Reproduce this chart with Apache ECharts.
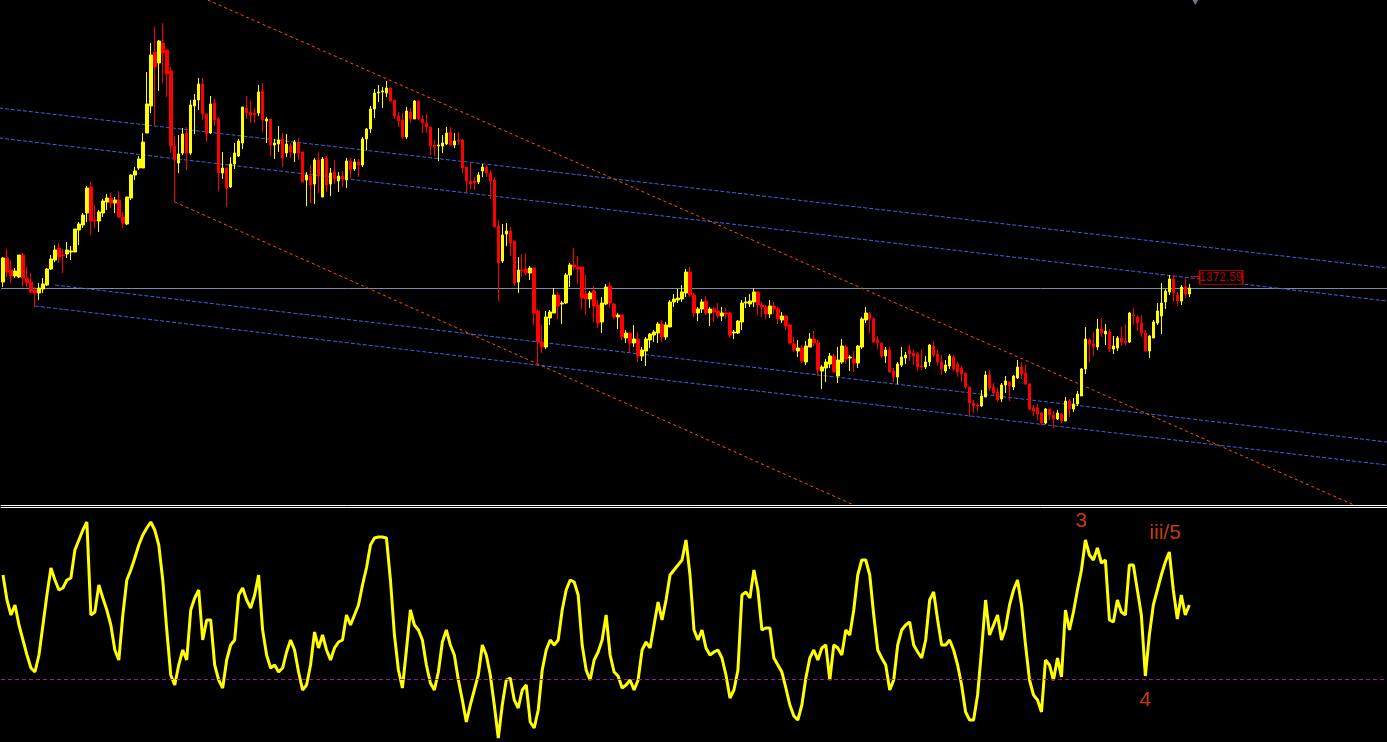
<!DOCTYPE html>
<html><head><meta charset="utf-8">
<script src="https://cdn.jsdelivr.net/npm/echarts@6/dist/echarts.min.js"></script>
<style>html,body{margin:0;padding:0;background:#000;overflow:hidden}#c{width:1387px;height:742px;}</style>
</head><body><div id="c"></div>
<script>
// ---- candle data (price units) ----
const opens = [
1368,1392,1380,1374,1373,1395,1372,1368,1360,1357,
1361,1365,1381,1390,1402,1395,1396,1398,1398,1420,
1425,1437,1463,1430,1429,1437,1448,1452,1447,1450,
1433,1426,1452,1475,1482,1482,1517,1544,1598,1587,
1607,1600,1579,1504,1487,1497,1517,1497,1544,1550,
1566,1536,1517,1547,1531,1477,1482,1463,1486,1494,
1507,1542,1538,1537,1537,1559,1529,1531,1505,1506,
1511,1497,1504,1497,1507,1498,1470,1474,1466,1490,
1453,1492,1466,1478,1469,1474,1470,1489,1481,1488,
1485,1511,1521,1541,1557,1558,1557,1562,1550,1534,
1530,1513,1538,1531,1549,1531,1527,1523,1505,1504,
1504,1506,1518,1505,1510,1510,1483,1469,1469,1468,
1479,1483,1477,1470,1424,1389,1416,1419,1409,1368,
1380,1381,1377,1382,1339,1308,1303,1332,1337,1355,
1346,1347,1375,1385,1383,1383,1356,1351,1359,1345,
1328,1346,1364,1346,1333,1335,1312,1317,1307,1311,
1294,1299,1310,1315,1317,1326,1313,1323,1348,1350,
1351,1357,1378,1355,1337,1341,1349,1337,1341,1339,
1334,1337,1337,1317,1317,1328,1347,1346,1348,1358,
1345,1343,1336,1344,1341,1330,1334,1325,1306,1299,
1302,1288,1303,1311,1307,1279,1282,1286,1294,1274,
1288,1303,1292,1291,1287,1303,1330,1336,1331,1310,
1307,1294,1300,1279,1273,1285,1292,1300,1297,1296,
1284,1283,1288,1304,1296,1288,1279,1284,1293,1286,
1282,1277,1263,1247,1245,1244,1253,1275,1263,1258,
1251,1265,1268,1263,1272,1283,1277,1266,1242,1242,
1237,1227,1241,1235,1231,1236,1229,1249,1241,1246,
1254,1281,1310,1306,1303,1321,1316,1318,1301,1302,
1312,1309,1308,1335,1333,1327,1317,1299,1312,1327,
1334,1348,1358,1371,1355,1349,1363,1356];
const closes = [
1392,1378,1374,1379,1395,1372,1367,1358,1357,1362,
1366,1381,1391,1400,1393,1394,1400,1399,1421,1426,
1435,1462,1429,1429,1438,1449,1452,1447,1450,1433,
1427,1453,1475,1479,1491,1508,1546,1595,1583,1609,
1597,1576,1504,1490,1496,1516,1497,1545,1550,1566,
1536,1516,1546,1530,1477,1482,1462,1486,1497,1509,
1543,1537,1535,1535,1558,1530,1531,1505,1507,1510,
1492,1506,1498,1508,1497,1468,1475,1465,1490,1474,
1491,1465,1477,1471,1474,1471,1489,1480,1488,1485,
1511,1521,1541,1557,1558,1559,1562,1549,1534,1529,
1513,1539,1531,1549,1531,1527,1523,1504,1503,1505,
1507,1517,1505,1509,1509,1482,1469,1466,1467,1475,
1483,1477,1469,1423,1387,1415,1419,1407,1367,1380,
1379,1377,1382,1337,1308,1303,1333,1338,1355,1344,
1347,1375,1385,1383,1381,1352,1351,1357,1344,1327,
1347,1363,1347,1333,1335,1313,1317,1307,1311,1294,
1300,1311,1316,1318,1326,1313,1325,1348,1351,1352,
1358,1378,1355,1337,1341,1348,1337,1341,1338,1334,
1337,1336,1315,1318,1329,1347,1348,1349,1358,1345,
1343,1336,1344,1341,1331,1334,1324,1307,1300,1302,
1289,1304,1311,1307,1280,1283,1288,1294,1278,1290,
1304,1291,1293,1287,1304,1331,1337,1331,1308,1307,
1294,1300,1278,1273,1286,1293,1295,1296,1294,1283,
1283,1288,1305,1295,1288,1281,1285,1294,1281,1278,
1276,1263,1247,1244,1244,1254,1275,1262,1257,1250,
1265,1269,1264,1274,1283,1276,1266,1241,1239,1236,
1227,1241,1235,1231,1237,1229,1249,1241,1246,1256,
1281,1311,1306,1303,1321,1317,1319,1301,1304,1312,
1308,1307,1337,1334,1327,1317,1299,1314,1328,1339,
1347,1359,1371,1357,1349,1363,1356,1362];
const lows = [
1363,1373,1367,1372,1372,1363,1363,1357,1343,1350,
1357,1364,1380,1388,1387,1377,1392,1390,1398,1405,
1422,1428,1415,1422,1418,1433,1440,1442,1437,1432,
1422,1425,1450,1470,1480,1482,1517,1537,1525,1559,
1567,1553,1497,1448,1477,1495,1480,1495,1516,1540,
1530,1508,1516,1524,1459,1471,1443,1462,1481,1493,
1501,1531,1527,1527,1534,1518,1507,1494,1491,1498,
1483,1493,1492,1488,1490,1468,1444,1447,1446,1457,
1453,1458,1454,1466,1458,1463,1462,1472,1479,1473,
1483,1500,1517,1532,1548,1542,1553,1548,1531,1523,
1511,1511,1527,1531,1530,1517,1517,1495,1494,1489,
1497,1505,1504,1502,1505,1477,1457,1461,1460,1466,
1473,1473,1451,1423,1349,1387,1404,1394,1364,1357,
1373,1375,1370,1325,1285,1297,1301,1325,1337,1331,
1326,1346,1363,1380,1366,1341,1335,1342,1328,1322,
1317,1345,1342,1331,1321,1310,1307,1298,1303,1288,
1289,1284,1302,1308,1307,1308,1310,1323,1343,1347,
1348,1353,1353,1333,1329,1337,1335,1324,1328,1332,
1329,1331,1312,1311,1316,1320,1342,1343,1343,1335,
1333,1331,1332,1336,1326,1327,1320,1305,1298,1293,
1287,1285,1303,1304,1274,1261,1268,1282,1277,1267,
1286,1286,1279,1278,1282,1301,1327,1317,1307,1301,
1292,1287,1277,1268,1266,1283,1286,1289,1285,1279,
1280,1281,1284,1293,1284,1275,1277,1281,1279,1273,
1268,1261,1233,1237,1238,1243,1253,1259,1255,1248,
1248,1257,1249,1260,1271,1271,1265,1240,1234,1230,
1225,1226,1230,1222,1230,1227,1229,1233,1238,1244,
1254,1276,1288,1294,1300,1313,1305,1298,1296,1299,
1304,1305,1307,1325,1319,1313,1298,1292,1312,1325,
1316,1341,1355,1348,1344,1345,1352,1353];
const highs = [
1393,1401,1390,1382,1395,1397,1383,1377,1363,1367,
1372,1382,1395,1405,1407,1401,1408,1404,1421,1428,
1437,1464,1468,1445,1440,1451,1456,1457,1453,1459,
1438,1453,1476,1483,1494,1517,1578,1607,1623,1610,
1627,1600,1583,1514,1515,1522,1523,1550,1556,1572,
1572,1537,1554,1551,1533,1498,1482,1493,1507,1511,
1543,1554,1549,1542,1565,1567,1533,1531,1511,1524,
1517,1516,1507,1510,1512,1498,1478,1485,1492,1498,
1493,1494,1482,1490,1478,1479,1492,1492,1491,1491,
1513,1522,1544,1561,1565,1563,1569,1563,1550,1538,
1537,1543,1542,1550,1549,1535,1536,1523,1510,1522,
1515,1523,1523,1517,1518,1511,1483,1487,1473,1478,
1486,1485,1480,1473,1430,1426,1427,1423,1409,1393,
1396,1397,1384,1382,1341,1325,1339,1340,1362,1358,
1349,1377,1387,1402,1394,1383,1375,1359,1364,1350,
1353,1366,1368,1347,1337,1335,1320,1317,1325,1318,
1303,1313,1317,1320,1328,1330,1328,1350,1356,1361,
1365,1381,1383,1357,1343,1351,1354,1343,1343,1347,
1343,1342,1338,1320,1330,1350,1353,1356,1362,1358,
1348,1345,1350,1348,1343,1338,1335,1326,1313,1310,
1305,1309,1317,1319,1310,1285,1291,1297,1296,1303,
1311,1305,1295,1299,1305,1333,1343,1338,1333,1314,
1307,1303,1304,1282,1288,1303,1298,1305,1300,1298,
1301,1294,1306,1309,1300,1295,1290,1296,1295,1288,
1284,1277,1263,1250,1247,1260,1279,1280,1267,1262,
1267,1274,1269,1275,1290,1288,1285,1267,1245,1246,
1238,1242,1241,1239,1240,1237,1253,1251,1252,1259,
1282,1323,1312,1318,1331,1332,1326,1321,1314,1314,
1323,1326,1338,1342,1335,1335,1320,1315,1330,1347,
1367,1361,1375,1375,1358,1365,1371,1366];

// ---- oscillator (lower panel) ----
const oscValues = [
167,142,127,137,117,102,87,74,70,87,
117,147,174,162,152,154,162,164,192,202,
212,220,127,130,157,144,132,117,92,82,
127,162,172,184,197,207,214,220,212,197,
162,112,67,57,77,92,82,132,144,152,
102,122,122,77,62,54,82,97,102,147,
154,142,134,147,167,112,87,74,77,70,
74,90,102,92,70,52,57,77,110,94,
107,92,82,94,100,102,127,117,127,137,
157,174,197,204,205,205,204,162,107,72,
54,92,132,117,112,102,77,59,52,70,
100,112,97,87,62,42,20,37,52,67,
97,87,67,37,4,37,62,64,42,34,
52,57,20,14,32,72,92,102,97,102,
132,152,162,160,147,97,72,62,82,90,
102,127,87,70,66,54,57,62,52,62,
92,100,94,117,140,122,142,167,172,177,
182,202,167,112,102,112,94,87,90,92,
84,67,44,52,72,147,150,144,172,152,
112,114,114,84,77,70,54,37,26,22,
37,64,84,92,82,94,97,62,97,94,
87,112,107,132,167,182,182,167,127,92,
84,77,52,62,97,112,117,120,97,90,
84,102,142,150,122,97,97,102,92,77,
57,30,22,22,47,92,142,107,117,127,
102,114,137,152,162,137,97,62,47,42,
30,82,77,62,84,65,132,112,130,152,
172,202,187,182,194,179,182,122,120,142,
130,127,177,177,152,127,66,107,137,152,
167,180,190,152,123,147,127,137];
const oscLevel = 63;
const oscLabels = [[270, 221, '3'], [291, 209, 'iii/5'], [286, 42, '4']];

// ---- trend lines: [barIndex, price] ----
const trendOrangeUpper = [[51.25, 1650], [338.25, 1145]];
const trendOrangeLower = [[43, 1448], [213, 1145]];
const trendBlueA = [[-1, 1542], [346.5, 1382]];
const trendBlueB = [[-1, 1512], [346.5, 1349]];
const trendBlueC1 = [[13, 1365], [346.5, 1208]];
const trendBlueC2 = [[8, 1344], [346.5, 1185]];

const tagPrice = 1372.59;
const tagIndex = 305;
const slotCount = 347;
const categories = Array.from({length: slotCount}, (_, i) => String(i));

const candleData = opens.map((o, i) => [o, closes[i], lows[i], highs[i]]);
const lastClose = closes[closes.length - 1];
const oscData = oscValues.map((v, i) => [i, v]);

function trend(data, color, dash) {
  return {type: 'line', xAxisIndex: 1, yAxisIndex: 0, data: data, symbol: 'none', silent: true, clip: true, z: 1,
    lineStyle: {color: color, width: 1, type: dash}};
}

const chart = echarts.init(document.getElementById('c'), null, {renderer: 'canvas'});
chart.setOption({
  backgroundColor: '#000',
  animation: false,
  grid: [
    {left: 1, top: 0, width: 1388, height: 505},
    {left: 1, top: 507, width: 1388, height: 235}
  ],
  xAxis: [
    {type: 'category', gridIndex: 0, data: categories, boundaryGap: true,
     axisLine: {show: true, onZero: false, lineStyle: {color: '#ffffff', width: 1}},
     axisTick: {show: false}, axisLabel: {show: false}, splitLine: {show: false}},
    {type: 'value', gridIndex: 0, min: -0.5, max: slotCount - 0.5, show: false},
    {type: 'value', gridIndex: 1, min: -0.5, max: slotCount - 0.5, position: 'top',
     axisLine: {show: true, onZero: false, lineStyle: {color: '#ffffff', width: 1}},
     axisTick: {show: false}, axisLabel: {show: false}, splitLine: {show: false}}
  ],
  yAxis: [
    {type: 'value', gridIndex: 0, min: 1145, max: 1650, show: false, splitLine: {show: false}},
    {type: 'value', gridIndex: 1, min: 0, max: 235, show: false, splitLine: {show: false}}
  ],
  series: [
    trend(trendBlueA, '#3f62e6', [4, 2]),
    trend(trendBlueB, '#3f62e6', [4, 2]),
    trend(trendBlueC1, '#3f62e6', [4, 2]),
    trend(trendBlueC2, '#3f62e6', [4, 2]),
    trend(trendOrangeUpper, '#ff5500', [3, 3]),
    trend(trendOrangeLower, '#ff5500', [3, 3]),
    {
      type: 'candlestick', xAxisIndex: 0, yAxisIndex: 0, data: candleData, barWidth: 3, z: 3,
      itemStyle: {color: '#ffff00', color0: '#ff0000', borderColor: '#ffff00', borderColor0: '#ff0000', borderWidth: 1},
      markLine: {silent: true, symbol: ['none', 'none'], label: {show: false}, z: 1,
        lineStyle: {color: '#7b8ba3', type: 'solid', width: 1},
        data: [{yAxis: lastClose}]}
    },
    {
      type: 'line', xAxisIndex: 1, yAxisIndex: 0, symbol: 'none', silent: true, z: 4,
      data: [[297.3, tagPrice + 1], [tagIndex - 5.3, tagPrice + 1]],
      lineStyle: {color: '#ff0000', width: 1}
    },
    {
      type: 'scatter', xAxisIndex: 1, yAxisIndex: 0, silent: true, z: 5,
      data: [[tagIndex, tagPrice]], symbol: 'rect', symbolSize: [43, 14],
      itemStyle: {color: '#000000', borderColor: '#ee0000', borderWidth: 1},
      label: {show: true, position: 'inside', formatter: tagPrice.toFixed(2), color: '#ee0000', fontSize: 12,
        fontFamily: 'Liberation Sans Narrow, Liberation Sans, Arial'}
    },
    {
      type: 'scatter', xAxisIndex: 1, yAxisIndex: 0, silent: true, z: 5,
      data: [[298.5, 1649]], symbol: 'triangle', symbolRotate: 180, symbolSize: [9, 8],
      itemStyle: {color: '#8595ad'}
    },
    {
      type: 'line', xAxisIndex: 2, yAxisIndex: 1, data: oscData, symbol: 'none', silent: true, z: 3,
      lineStyle: {color: '#ffff00', width: 3},
      markLine: {silent: true, symbol: ['none', 'none'], label: {show: false},
        lineStyle: {color: '#a01aa0', type: [4, 3], width: 1},
        data: [{yAxis: oscLevel}]}
    },
    {
      type: 'scatter', xAxisIndex: 2, yAxisIndex: 1, silent: true, z: 6,
      data: oscLabels, symbolSize: 1, itemStyle: {color: 'rgba(0,0,0,0)'},
      label: {show: true, position: 'inside', formatter: p => p.data[2], color: '#ff4a0a', fontSize: 21,
        fontFamily: 'Liberation Sans, Arial'}
    }
  ]
});
</script>
</body></html>
